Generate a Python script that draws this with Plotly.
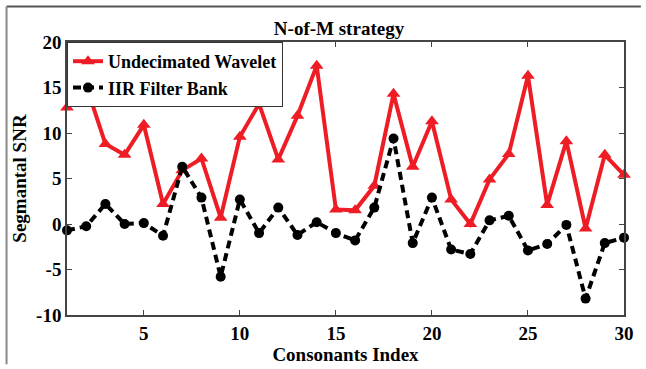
import plotly.graph_objects as go

consonant_index = list(range(1, 31))
undecimated_wavelet = [12.8, 15.2, 8.8, 7.6, 10.9, 2.2, 5.9, 7.2, 0.7, 9.6,
                       13.2, 7.1, 11.9, 17.4, 1.6, 1.5, 4.2, 14.3, 6.3, 11.3,
                       2.7, 0.0, 4.9, 7.7, 16.3, 2.1, 9.1, -0.5, 7.6, 5.4]
iir_filter_bank = [-0.7, -0.25, 2.2, 0.0, 0.1, -1.3, 6.3, 2.9, -5.8, 2.7,
                   -1.0, 1.8, -1.2, 0.2, -1.0, -1.8, 1.8, 9.4, -2.1, 2.9,
                   -2.8, -3.3, 0.4, 0.9, -2.9, -2.2, -0.1, -8.2, -2.1, -1.5]
x_ticks = [5, 10, 15, 20, 25, 30]
x_tick_labels = ["5", "10", "15", "20", "25", "30"]
y_ticks = [-10, -5, 0, 5, 10, 15, 20]
y_tick_labels = ["-10", "-5", "0", "5", "10", "15", "20"]

FONT = "Liberation Serif"
W, H = 646, 369
L, R, T, B = 67, 17, 42, 50

fig = go.Figure()
fig.add_trace(go.Scatter(
    x=consonant_index, y=undecimated_wavelet, name="<b>Undecimated Wavelet</b>",
    mode="lines+markers", cliponaxis=False,
    line=dict(color="#EE1C25", width=4),
    marker=dict(symbol="triangle-up", size=12, color="#EE1C25"),
))
fig.add_trace(go.Scatter(
    x=consonant_index, y=iir_filter_bank, name="<b>IIR Filter Bank</b>",
    mode="lines+markers", cliponaxis=False,
    line=dict(color="black", width=4, dash="8px,5px"),
    marker=dict(symbol="circle", size=10, color="black"),
))

pw = W - L - R
ph = H - T - B
def px_x(p):
    return (p - L) / pw
def px_y(p):
    return 1 - (p - T) / ph

fig.add_shape(type="line", xref="paper", yref="paper",
              x0=px_x(6), x1=px_x(646), y0=px_y(6), y1=px_y(6),
              line=dict(color="#555555", width=2))
fig.add_shape(type="line", xref="paper", yref="paper",
              x0=px_x(6), x1=px_x(6), y0=px_y(6), y1=px_y(369),
              line=dict(color="#888888", width=2))

axis_common = dict(
    showgrid=False, zeroline=False, showline=True, mirror="ticks",
    linecolor="#444444", linewidth=1.5, ticks="inside", ticklen=5,
    tickcolor="#444444",
    tickfont=dict(family=FONT, size=19, color="black"),
)
fig.update_xaxes(range=[1, 30], tickvals=x_ticks,
                 ticktext=["<b>%s</b>" % t for t in x_tick_labels],
                 title=dict(text="<b>Consonants Index</b>", standoff=0,
                            font=dict(family=FONT, size=19, color="black")),
                 **axis_common)
fig.update_yaxes(range=[-10, 20], tickvals=y_ticks,
                 ticktext=["<b>%s</b>" % t for t in y_tick_labels],
                 title=dict(text="<b>Segmantal SNR</b>", standoff=4,
                            font=dict(family=FONT, size=19, color="black")),
                 **axis_common)

fig.update_layout(
    width=W, height=H,
    margin=dict(l=L, r=R, t=T, b=B),
    paper_bgcolor="white", plot_bgcolor="white",
    title=dict(text="<b>N-of-M strategy</b>", x=339 / W,
               xanchor="center", y=1 - 28 / H, yanchor="middle",
               font=dict(family=FONT, size=19, color="black")),
    legend=dict(x=0, y=1, xanchor="left", yanchor="top",
                bgcolor="white", bordercolor="#333333", borderwidth=1,
                font=dict(family=FONT, size=18, color="black"),
                tracegroupgap=0, itemwidth=30),
    showlegend=True,
)

fig.write_html("out.html")
